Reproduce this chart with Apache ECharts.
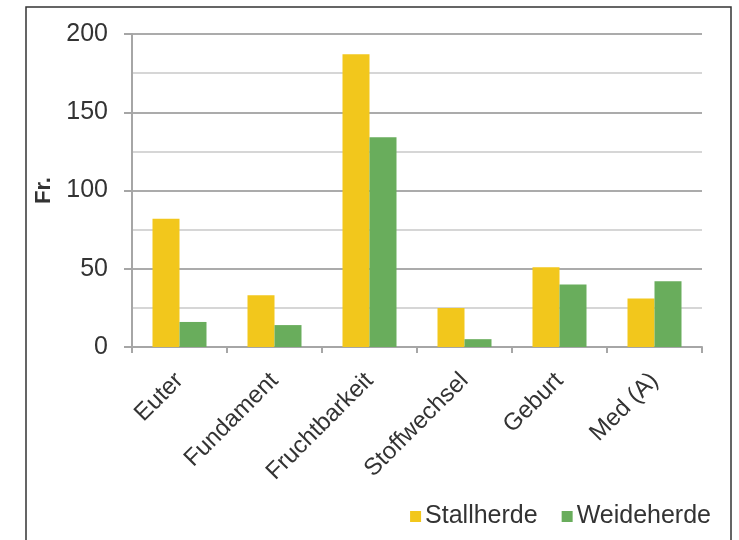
<!DOCTYPE html>
<html>
<head>
<meta charset="utf-8">
<script src="https://cdn.jsdelivr.net/npm/echarts@6/dist/echarts.min.js"></script>
<style>
  html, body { margin: 0; padding: 0; background: #fff; }
  #main { width: 739px; height: 540px; }
</style>
</head>
<body>
<div id="main"></div>
<script>
// Kategorien und Werte
let categories = ['Euter', 'Fundament', 'Fruchtbarkeit', 'Stoffwechsel', 'Geburt', 'Med (A)'];
let stallValues = [82, 33, 187, 25, 51, 31];
let weideValues = [16, 14, 134, 5, 40, 42];
let seriesNames = ['Stallherde', 'Weideherde'];

let myChart = echarts.init(document.getElementById('main'));

let textColor = '#333';
let font = 'Liberation Sans, Arial, sans-serif';

let option = {
    animation: false,
    textStyle: { fontFamily: font },
    graphic: [{
        type: 'rect',
        shape: { x: 26, y: 7, width: 705, height: 560 },
        style: { fill: 'none', stroke: '#333', lineWidth: 1.5 },
        silent: true
    }],
    grid: {
        left: 132,
        right: 37,
        top: 34,
        bottom: 193
    },
    legend: {
        right: 23,
        bottom: 6,
        itemWidth: 11,
        itemHeight: 11,
        itemGap: 24,
        icon: 'rect',
        textStyle: { fontSize: 25, color: textColor, fontFamily: font, padding: [0, 0, 0, -1] }
    },
    xAxis: {
        type: 'category',
        data: categories,
        axisLine: { lineStyle: { color: '#a6a6a6', width: 2 } },
        axisTick: { show: true, length: 6, lineStyle: { color: '#a6a6a6', width: 2 } },
        axisLabel: {
            rotate: 45,
            margin: 30,
            fontSize: 24,
            color: textColor,
            interval: 0
        }
    },
    yAxis: {
        type: 'value',
        min: 0,
        max: 200,
        interval: 50,
        name: 'Fr.',
        nameLocation: 'middle',
        nameGap: 69,
        nameRotate: 90,
        nameTextStyle: { fontSize: 22, fontWeight: 'bold', color: textColor },
        axisLine: { show: true, lineStyle: { color: '#a6a6a6', width: 2 } },
        axisTick: { show: true, length: 8, lineStyle: { color: '#a6a6a6', width: 2 } },
        axisLabel: { fontSize: 25, color: textColor, margin: 24 },
        splitLine: { lineStyle: { color: '#ababab', width: 2 } },
        minorTick: { show: false, splitNumber: 2 },
        minorSplitLine: { show: true, lineStyle: { color: '#d6d6d6', width: 2 } }
    },
    series: [{
        name: seriesNames[0],
        type: 'bar',
        data: stallValues,
        barWidth: 27,
        barGap: '0%',
        itemStyle: { color: '#f2c71c' }
    }, {
        name: seriesNames[1],
        type: 'bar',
        data: weideValues,
        barWidth: 27,
        barGap: '0%',
        itemStyle: { color: '#69ad5c' }
    }]
};

myChart.setOption(option);
</script>
</body>
</html>
